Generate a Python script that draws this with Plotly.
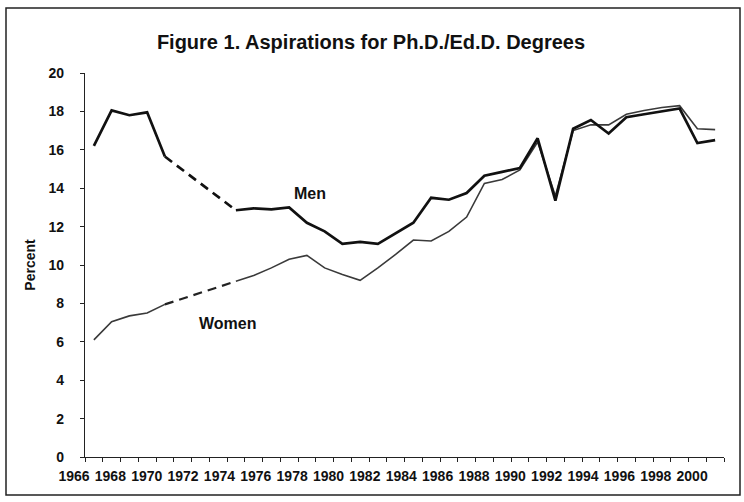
import plotly.graph_objects as go

# ---- data -------------------------------------------------------------
years = list(range(1966, 2002))
men = [16.2, 18.05, 17.8, 17.95, 15.65, None, None, None,
       12.85, 12.95, 12.9, 13.0, 12.2, 11.75, 11.1, 11.2, 11.1, 11.65,
       12.2, 13.5, 13.4, 13.75, 14.65, 14.85, 15.05, 16.6, 13.35, 17.1,
       17.55, 16.85, 17.7, 17.85, 18.0, 18.15, 16.35, 16.5]
women = [6.1, 7.05, 7.35, 7.5, 7.95, None, None, None,
         9.15, 9.45, 9.85, 10.3, 10.5, 9.85, 9.5, 9.2, 9.85, 10.55,
         11.3, 11.25, 11.75, 12.5, 14.25, 14.45, 14.95, 16.4, 13.6, 17.0,
         17.3, 17.3, 17.85, 18.05, 18.2, 18.3, 17.1, 17.05]
label_years = list(range(1966, 2001, 2))
y_ticks = list(range(0, 21, 2))
title_text = "Figure 1. Aspirations for Ph.D./Ed.D. Degrees"


def gap_bridge(xs, ys):
    """points on either side of the missing years"""
    bx, by = [], []
    for i in range(1, len(ys)):
        if ys[i] is None and ys[i - 1] is not None:
            bx.append(xs[i - 1]); by.append(ys[i - 1])
        if ys[i] is not None and ys[i - 1] is None:
            bx.append(xs[i]); by.append(ys[i])
    return bx, by


FONT = "Liberation Sans, Arial, sans-serif"
W, H = 744, 502
ML, MR, MT, MB = 50, 20, 73, 45
AX_LEFT = 85  # pixel of the y axis line
x_dom0 = (AX_LEFT - ML) / (W - ML - MR)

fig = go.Figure()

mbx, mby = gap_bridge(years, men)
wbx, wby = gap_bridge(years, women)

# invisible trace to activate the label axis (drawn first, underneath)
fig.add_trace(go.Scatter(x=[label_years[0]], y=[0], xaxis="x2", yaxis="y",
                         mode="markers", marker=dict(opacity=0),
                         showlegend=False, hoverinfo="skip"))

fig.add_trace(go.Scatter(x=years, y=women, mode="lines", connectgaps=False,
                         line=dict(color="#3a3a3a", width=1.6),
                         name="Women", showlegend=False, hoverinfo="skip"))
fig.add_trace(go.Scatter(x=wbx, y=wby, mode="lines",
                         line=dict(color="#222222", width=2.2, dash="9px,6px"),
                         showlegend=False, hoverinfo="skip"))
fig.add_trace(go.Scatter(x=years, y=men, mode="lines", connectgaps=False,
                         line=dict(color="#111111", width=2.7),
                         name="Men", showlegend=False, hoverinfo="skip"))
fig.add_trace(go.Scatter(x=mbx, y=mby, mode="lines",
                         line=dict(color="#111111", width=2.7, dash="9px,6px"),
                         showlegend=False, hoverinfo="skip"))

# label axis (text of the years), separate scale for the printed labels
px0, px1 = ML, W - MR
lab_px0, lab_step = 74.0, 18.18
r0 = 1966 + (px0 - lab_px0) / lab_step
r1 = 1966 + (px1 - lab_px0) / lab_step

TICKFONT = dict(family=FONT, size=14, weight="bold", color="#111111")

fig.update_layout(
    width=W, height=H,
    margin=dict(l=ML, r=MR, t=MT, b=MB),
    paper_bgcolor="white", plot_bgcolor="rgba(0,0,0,0)",
    font=dict(family=FONT, color="#111111"),
    title=dict(text=title_text, x=371 / W, xanchor="center", y=1 - 42 / H,
               yanchor="middle",
               font=dict(family=FONT, size=20, weight="bold", color="#111111")),
    xaxis=dict(domain=[x_dom0, 1], range=[1965.5, 2001.5],
               showline=True, linecolor="#222222", linewidth=1.3,
               showgrid=False, zeroline=False,
               tickmode="array", tickvals=[], ticks="",
               minor=dict(ticks="outside", tick0=1965.5, dtick=1, ticklen=4,
                          tickcolor="#222222", tickwidth=1, showgrid=False)),
    xaxis2=dict(domain=[0, 1], range=[r0, r1], anchor="y",
                showline=False, showgrid=False, zeroline=False, ticks="",
                tickmode="array", tickvals=label_years,
                ticktext=[str(y) for y in label_years],
                tickfont=TICKFONT, ticklabelstandoff=9),
    yaxis=dict(range=[0, 20], anchor="x", showline=True, linecolor="#222222",
               linewidth=1.3, showgrid=False, zeroline=False,
               tickmode="array", tickvals=y_ticks, ticks="outside", ticklen=4,
               tickcolor="#222222", tickfont=TICKFONT, ticklabelstandoff=13,
               title=dict(text="Percent", standoff=9,
                          font=dict(family=FONT, size=14, weight="bold",
                                    color="#111111"))),
)

fig.add_annotation(x=1978.2, y=13.75, text="Men", showarrow=False,
                   font=dict(family=FONT, size=16, weight="bold", color="#111111"))
fig.add_annotation(x=1973.5, y=6.96, text="Women", showarrow=False,
                   font=dict(family=FONT, size=16, weight="bold", color="#111111"))

# outer frame
fig.add_shape(type="rect", xref="paper", yref="paper",
              x0=(6 - ML) / (W - ML - MR), x1=(740 - ML) / (W - ML - MR),
              y0=(H - MB - 495) / (H - MT - MB), y1=(H - MB - 8) / (H - MT - MB),
              line=dict(color="#222222", width=1.5), fillcolor="rgba(0,0,0,0)",
              layer="below")

fig.write_html("out.html",
               config={"displayModeBar": False},
               post_script="document.body.style.margin='0';"
                           "document.body.style.overflow='hidden';")
